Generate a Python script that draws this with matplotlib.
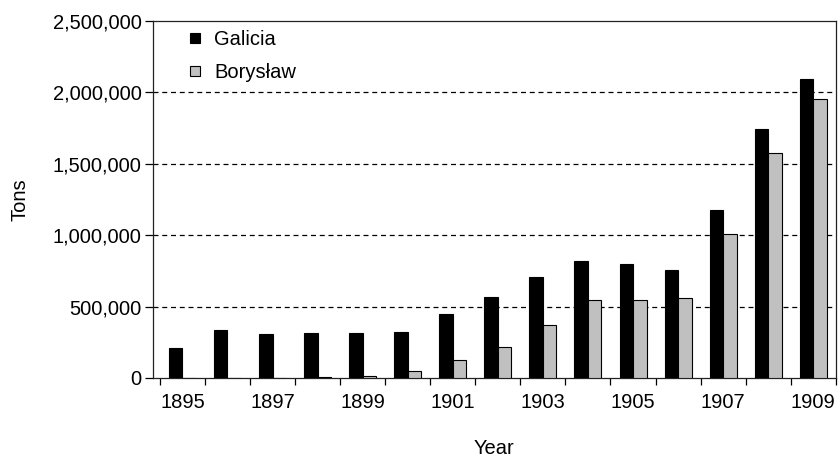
import matplotlib
matplotlib.use("Agg")
import matplotlib.pyplot as plt
from matplotlib.ticker import FuncFormatter, FixedLocator
from matplotlib.lines import Line2D

plt.rcParams['font.family'] = ['Liberation Sans', 'DejaVu Sans']

years = [1895, 1896, 1897, 1898, 1899, 1900, 1901, 1902, 1903, 1904,
         1905, 1906, 1907, 1908, 1909]
galicia = [210000, 335000, 308000, 318000, 318000, 322000, 445000, 565000,
           710000, 822000, 798000, 758000, 1175000, 1745000, 2092000]
boryslaw = [0, 0, 0, 8000, 12000, 50000, 128000, 220000, 372000, 545000,
            545000, 558000, 1008000, 1575000, 1955000]
yticks = [0, 500000, 1000000, 1500000, 2000000, 2500000]

FS = 14.5

fig = plt.figure(figsize=(8.4, 4.57), dpi=100)
ax = fig.add_axes([0.182, 0.1729, 0.813, 0.781])

n = len(years)
centers = [i + 0.5 for i in range(n)]
w = 0.30
ax.bar([c - w / 2 for c in centers], galicia, width=w, color='black',
       edgecolor='black', linewidth=0.8, zorder=3, label='Galicia')
ax.bar([c + w / 2 for c in centers], boryslaw, width=w, color='#c0c0c0',
       edgecolor='black', linewidth=0.8, zorder=3, label='Borysław')

ax.set_xlim(-0.155, n)
ax.set_ylim(0, 2500000)

ax.set_yticks(yticks)
ax.yaxis.set_major_formatter(FuncFormatter(lambda v, p: f"{int(v):,}"))
for y in yticks[1:-1]:
    ax.axhline(y, color='black', linestyle=(0, (4, 3)), linewidth=0.9, zorder=1)

ax.xaxis.set_major_locator(FixedLocator(list(range(n + 1))))
ax.xaxis.set_major_formatter(FuncFormatter(lambda v, p: ""))
lab_pos = [centers[i] for i in range(0, n, 2)]
ax.xaxis.set_minor_locator(FixedLocator(lab_pos))
ax.set_xticklabels([str(years[i]) for i in range(0, n, 2)], minor=True)
ax.tick_params(axis='x', which='minor', length=0, pad=11, labelsize=FS)
ax.tick_params(axis='x', which='major', length=5, direction='out', width=0.9)
ax.tick_params(axis='y', length=5.5, width=0.9, pad=2.5, labelsize=FS)

for s in ax.spines.values():
    s.set_linewidth(0.9)
    s.set_color('#222222')

ax.set_ylabel('Tons', fontsize=FS, labelpad=17)
ax.set_xlabel('Year', fontsize=FS, labelpad=19)

handles = [Line2D([], [], marker='s', linestyle='none', markersize=6.6,
                  markerfacecolor='black', markeredgecolor='black',
                  markeredgewidth=0.8),
           Line2D([], [], marker='s', linestyle='none', markersize=6.6,
                  markerfacecolor='#c0c0c0', markeredgecolor='black',
                  markeredgewidth=0.8)]
ax.legend(handles, ['Galicia', 'Borysław'], loc='upper left',
          bbox_to_anchor=(0.029, 1.025), frameon=False, fontsize=FS,
          handlelength=0.46, handleheight=0.7, handletextpad=0.7,
          labelspacing=0.7)

fig.savefig('out.png', dpi=100)
